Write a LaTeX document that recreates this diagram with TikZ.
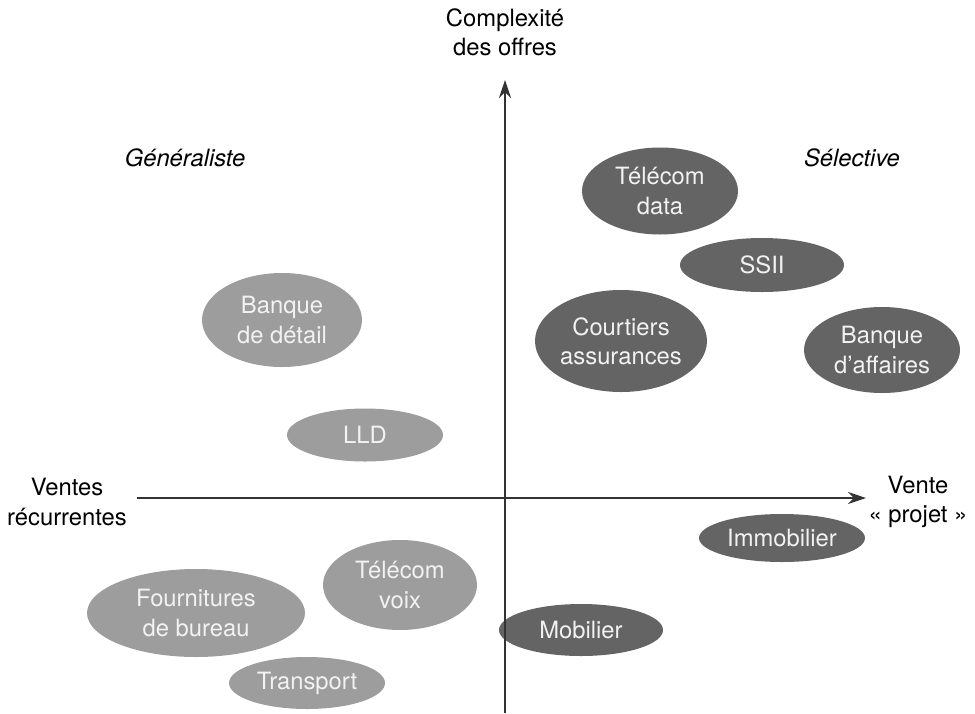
\documentclass[tikz,border=0pt]{standalone}
\usepackage{fontspec}
\setmainfont{TeX Gyre Heros}
\usepackage{xcolor}
\usepackage{tikz}
\usetikzlibrary{shapes.geometric}
\usetikzlibrary{arrows.meta}

\definecolor{clair}{HTML}{9D9D9D}
\definecolor{fonce}{HTML}{646464}
\definecolor{axe}{HTML}{333333}

\begin{document}
\begin{tikzpicture}[x=0.5pt, y=-0.5pt,
        every node/.style={font=\fontsize{11.9}{14.6}\selectfont, align=center},
        secteur/.style={ellipse, inner sep=0pt, text=white!95!black},
        generaliste/.style={secteur, fill=clair},
        selectif/.style={secteur, fill=fonce}]

                \useasboundingbox (0,0) rectangle (975,713);

                % Secteurs selectifs (gris fonce)
                \node (tdata) [selectif, minimum width=78pt, minimum height=43.5pt]
                    at (660,191) {Télécom\\data};
                \node (ssii) [selectif, minimum width=82pt, minimum height=27pt]
                    at (762,265) {SSII};
                \node (courtiers) [selectif, minimum width=86pt, minimum height=51pt]
                    at (621,341) {Courtiers\\assurances};
                \node (baffaires) [selectif, minimum width=78pt, minimum height=43pt]
                    at (882,350) {Banque\\d’affaires};
                \node (immo) [selectif, minimum width=83pt, minimum height=24pt]
                    at (782,538) {Immobilier};
                \node (mobilier) [selectif, minimum width=82pt, minimum height=26pt]
                    at (581,630) {Mobilier};

                % Secteurs generalistes (gris clair)
                \node (bdetail) [generaliste, minimum width=80pt, minimum height=47pt]
                    at (282,320) {Banque\\de détail};
                \node (lld) [generaliste, minimum width=78pt, minimum height=26.5pt]
                    at (365,435) {LLD};
                \node (fournitures) [generaliste, minimum width=109pt, minimum height=44pt]
                    at (196,613) {Fournitures\\de bureau};
                \node (tvoix) [generaliste, minimum width=77pt, minimum height=45pt]
                    at (400,585) {Télécom\\voix};
                \node (transport) [generaliste, minimum width=78pt, minimum height=26pt]
                    at (307,683) {Transport};

                % Axes
                \coordinate (xmin) at (137,498);
                \coordinate (xmax) at (866,498);
                \coordinate (ymin) at (505,713);
                \coordinate (ymax) at (505,80);

                \begin{scope}[draw=axe, -{Stealth[length=9pt, width=6pt]}]
                    \draw[line width=1pt] (xmin) -- (xmax);
                    \draw[line width=0.6pt] (ymin) -- (ymax);
                \end{scope}

                % Intitules
                \node (complexite) at (505,32) {Complexité\\des offres};
                \node (ventes) at (67,502) {Ventes\\récurrentes};
                \node (projet) at (918,502) {Vente\\« projet »};
                \node (gen) at (185,158) {\itshape Généraliste};
                \node (sel) at (852,158) {\itshape Sélective};

\end{tikzpicture}
\end{document}
